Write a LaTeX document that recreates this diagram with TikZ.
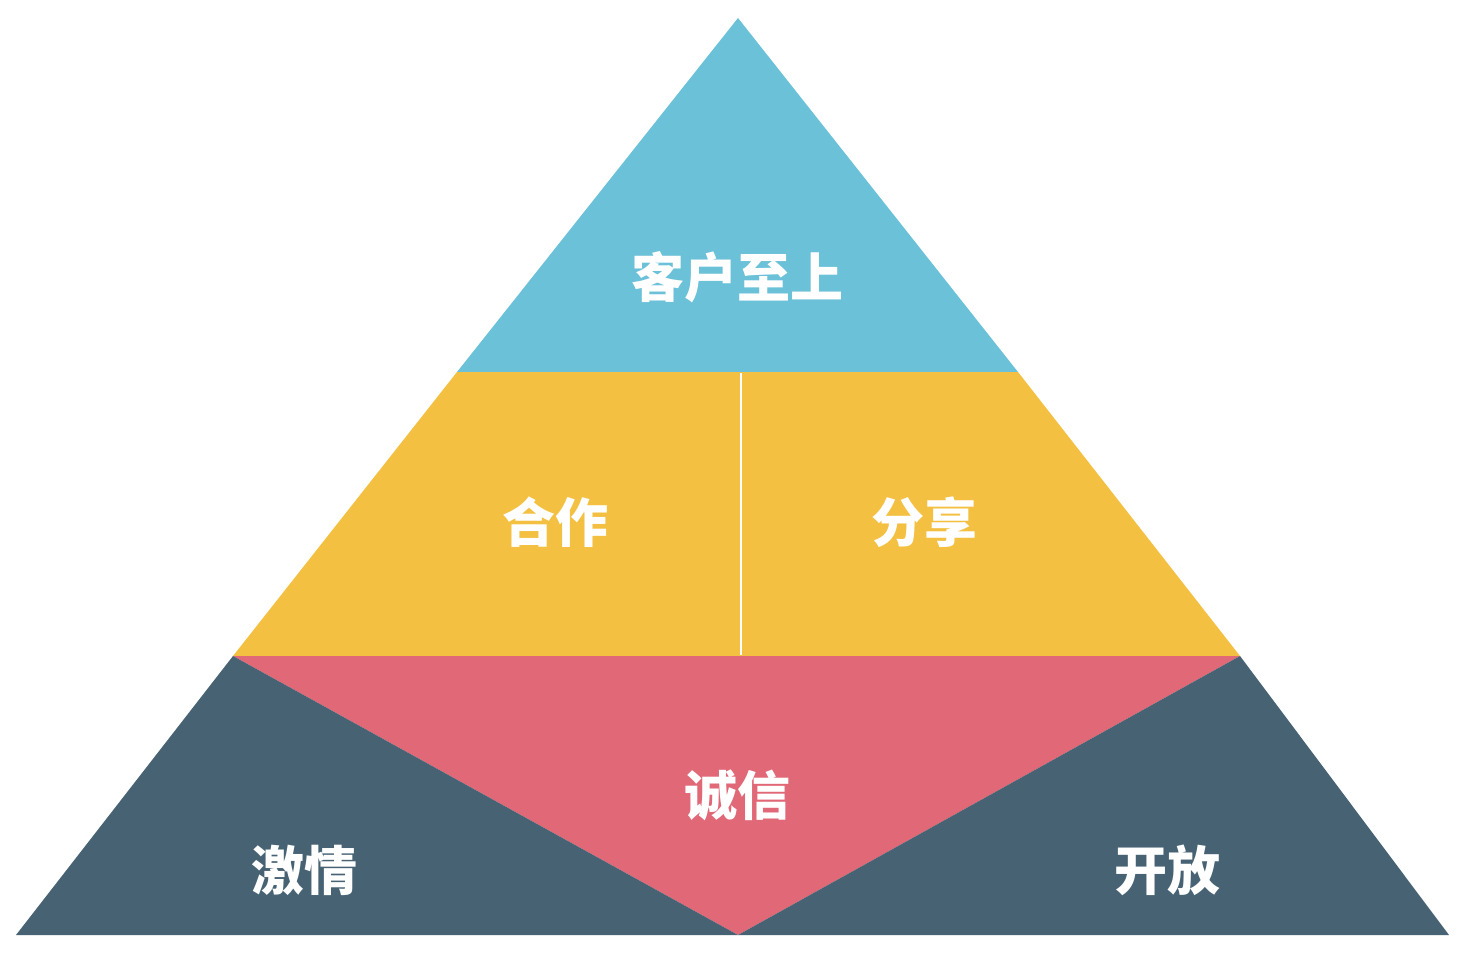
\documentclass[tikz,border=0pt]{standalone}
\usepackage{fontspec}
\newfontfamily\cjk{Noto Sans CJK SC}
\definecolor{cblue}{HTML}{6BC1D8}
\definecolor{cyellow}{HTML}{F4C042}
\definecolor{cred}{HTML}{E06877}
\definecolor{cdark}{HTML}{466273}
\tikzset{lbl/.style={text=white,font=\cjk\bfseries\fontsize{53}{60}\selectfont,inner sep=0pt}}
\begin{document}
\begin{tikzpicture}[x=1pt,y=-1pt]
\useasboundingbox (0,0) rectangle (1462,974);
\fill[cblue] (738,18) -- (1018,372) -- (457,372) -- cycle;
\fill[cyellow] (457,372) -- (1018,372) -- (1240,656) -- (233,656) -- cycle;
\fill[cred] (233,656) -- (1240,656) -- (738,935) -- cycle;
\fill[cdark] (233,656) -- (738,935) -- (16,935) -- cycle;
\fill[cdark] (1240,656) -- (1449,935) -- (738,935) -- cycle;
\coordinate (st) at (741,373);
\coordinate (sb) at (741,655);
\draw[white,line width=2pt] (st) -- (sb);
\node[lbl] (t1) at (737,277) {客户至上};
\node[lbl] (t2) at (555,522) {合作};
\node[lbl] (t3) at (924,522) {分享};
\node[lbl] (t4) at (737,795) {诚信};
\node[lbl] (t5) at (304,870) {激情};
\node[lbl] (t6) at (1167,870) {开放};
\end{tikzpicture}
\end{document}
